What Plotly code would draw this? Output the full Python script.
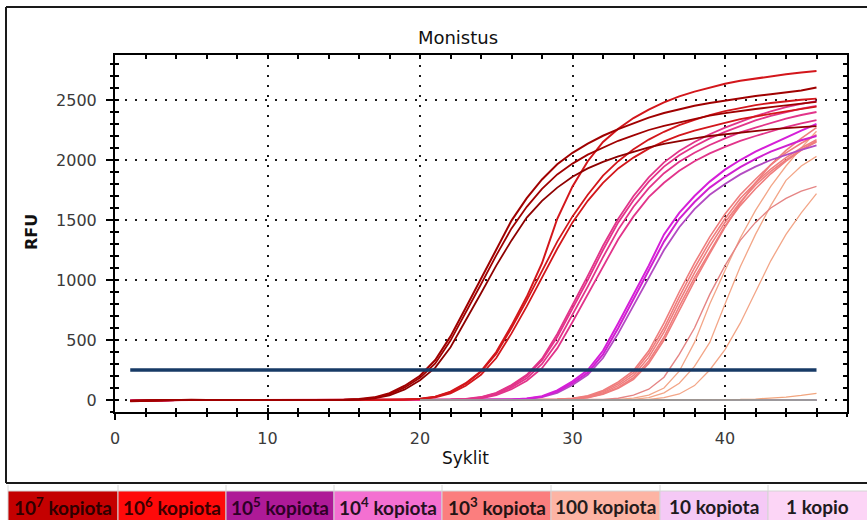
import plotly.graph_objects as go

# ---------------- data ----------------
cycles = list(range(1, 47))

# 10^7 copies
a1 = [-10, -6, -3, 0, 2, 0, -2, 0, 1, 0, -1, 0, 1, 0,
      2, 8, 22, 57, 119, 202, 333, 530, 768, 1010, 1262, 1495, 1682, 1838, 1964, 2060,
      2136, 2202, 2257, 2308, 2353, 2392, 2424, 2452, 2475, 2495, 2515, 2533, 2547, 2563, 2580, 2605]
a2 = [-8, -4, -1, 1, 0, -1, 0, 2, 0, -1, 0, 1, 0, 0,
      1, 6, 18, 48, 105, 185, 305, 495, 725, 965, 1205, 1430, 1610, 1760, 1880, 1970,
      2045, 2105, 2160, 2205, 2250, 2285, 2315, 2345, 2370, 2390, 2410, 2425, 2440, 2455, 2470, 2485]
a3 = [-6, -3, 0, 1, -1, 0, 1, 0, -1, 0, 0, 1, 0, -1,
      0, 4, 14, 38, 88, 165, 270, 440, 660, 890, 1120, 1330, 1520, 1660, 1770, 1860,
      1930, 1985, 2030, 2070, 2105, 2135, 2160, 2180, 2200, 2215, 2230, 2243, 2255, 2265, 2275, 2283]

# 10^6 copies
b1 = [-8, -4, -2, 0, 1, 0, -1, 0, 2, 1, 0, -1, 0, 1, 0, 0, 1, 0,
      3, 10, 28, 70, 140, 240, 400, 620, 860, 1140, 1510, 1780, 1990, 2150, 2260, 2350,
      2420, 2480, 2530, 2570, 2605, 2635, 2660, 2680, 2700, 2715, 2730, 2742]
b2 = [-7, -3, 0, 1, 0, -1, 0, 1, 0, 0, 1, 0, -1, 0, 1, 0, 0, 1,
      2, 9, 26, 65, 135, 235, 385, 600, 830, 1070, 1320, 1530, 1710, 1870, 1990, 2090,
      2170, 2235, 2290, 2335, 2375, 2408, 2435, 2458, 2475, 2490, 2502, 2512]
b3 = [-6, -2, 0, 0, 1, 0, -1, 0, 1, 0, 0, -1, 0, 1, 0, 0, 0, 1,
      1, 7, 22, 55, 118, 210, 350, 555, 780, 1020, 1260, 1480, 1660, 1810, 1930, 2020,
      2095, 2155, 2205, 2245, 2280, 2310, 2340, 2365, 2385, 2405, 2425, 2445]

# 10^5 copies
c1 = [-8, -4, -1, 0, 1, 0, -1, 0, 1, 0, 0, 1, 0, -1, 0, 1, 0, 0, 1, 0, 0,
      2, 8, 22, 56, 118, 200, 330, 525, 760, 1000, 1250, 1480, 1665, 1820, 1945,
      2040, 2115, 2180, 2235, 2285, 2330, 2368, 2400, 2428, 2452]
c2 = [-6, -3, 0, 1, 0, -1, 0, 1, 0, 0, -1, 0, 1, 0, 0, 1, 0, -1, 0, 0, 1,
      1, 6, 18, 48, 105, 180, 300, 480, 710, 945, 1190, 1420, 1610, 1765, 1890,
      1985, 2060, 2125, 2180, 2230, 2270, 2310, 2345, 2375, 2400]
c3 = [-5, -2, 0, 0, 1, 0, 0, -1, 0, 1, 0, 0, 1, 0, -1, 0, 0, 1, 0, 0, 0,
      1, 5, 14, 40, 90, 160, 265, 430, 650, 880, 1110, 1340, 1530, 1690, 1810,
      1910, 1990, 2055, 2110, 2160, 2200, 2240, 2275, 2305, 2332]
c4 = [-9, -5, -2, 0, 0, 1, 0, 0, -1, 0, 1, 0, 0, 1, 0, 0, -1, 0, 1, 0, 1,
      3, 9, 25, 60, 125, 210, 345, 550, 790, 1035, 1285, 1510, 1700, 1855, 1980,
      2075, 2150, 2215, 2270, 2320, 2365, 2405, 2440, 2468, 2490]

# 10^4 copies
d1 = [-7, -3, 0, 1, 0, -1, 0, 0, 1, 0, 0, -1, 0, 1, 0, 0, 0, 1, 0, -1, 0, 0, 1, 0, 0,
      4, 12, 32, 80, 155, 250, 410, 640, 880, 1120, 1380, 1560, 1700, 1820, 1920,
      2000, 2070, 2130, 2190, 2245, 2300]
d2 = [-6, -2, 0, 0, 1, 0, -1, 0, 0, 1, 0, 0, -1, 0, 0, 1, 0, 0, 0, 1, 0, -1, 0, 0, 1,
      3, 10, 28, 70, 140, 228, 380, 600, 840, 1080, 1320, 1510, 1650, 1770, 1860,
      1940, 2010, 2070, 2120, 2165, 2200]
d3 = [-5, -2, 1, 0, 0, -1, 0, 1, 0, 0, 0, -1, 0, 1, 0, 0, -1, 0, 1, 0, 0, 0, 1, 0, 0,
      2, 8, 24, 60, 125, 210, 350, 555, 790, 1020, 1250, 1440, 1590, 1710, 1800,
      1880, 1945, 2000, 2045, 2085, 2122]

# 10^3 copies
e1 = [-6, -3, 0, 1, 0, 0, -1, 0, 1, 0, 0, 0, -1, 0, 1, 0, 0, 0, 1, 0, -1, 0, 0, 1, 0, 0, 1,
      2, 6, 15, 35, 80, 150, 245, 410, 640, 900, 1140, 1360, 1550, 1710, 1840,
      1960, 2060, 2140, 2210]
e2 = [-5, -2, 0, 0, 1, 0, 0, -1, 0, 0, 1, 0, 0, -1, 0, 0, 1, 0, 0, -1, 0, 0, 1, 0, 0, 0, 1,
      1, 5, 12, 30, 70, 135, 225, 385, 600, 860, 1100, 1320, 1510, 1680, 1810,
      1925, 2020, 2100, 2170]
e3 = [-7, -4, -1, 0, 0, 1, 0, 0, -1, 0, 1, 0, 0, 0, -1, 0, 1, 0, 0, 0, -1, 0, 0, 1, 0, 0, 0,
      1, 4, 10, 26, 60, 120, 205, 355, 565, 820, 1060, 1280, 1480, 1650, 1790,
      1905, 2000, 2085, 2150]
e4 = [-4, -2, 0, 1, 0, 0, 0, -1, 0, 1, 0, 0, -1, 0, 0, 1, 0, 0, -1, 0, 0, 1, 0, 0, -1, 0, 0,
      0, 3, 8, 22, 52, 105, 185, 325, 525, 780, 1020, 1240, 1450, 1620, 1760,
      1885, 1990, 2080, 2160]
e5 = [-6, -3, -1, 0, 1, 0, 0, 0, -1, 0, 0, 1, 0, 0, -1, 0, 0, 1, 0, 0, 0, -1, 0, 1, 0, 0, 0,
      0, 2, 7, 20, 48, 98, 172, 305, 500, 750, 990, 1220, 1440, 1640, 1810,
      1960, 2080, 2180, 2270]

# 100 copies
f1 = [-5, -2, 0, 0, 1, 0, 0, -1, 0, 0, 1, 0, 0, 0, -1, 0, 0, 1, 0, 0, 0, -1, 0, 0, 1, 0, 0, 0, -1, 0,
      0, 5, 15, 40, 90, 190, 380, 600, 880, 1120, 1330, 1480, 1600, 1680, 1740, 1780]
f2 = [-4, -2, 0, 1, 0, 0, -1, 0, 0, 1, 0, 0, -1, 0, 0, 0, 1, 0, 0, -1, 0, 0, 0, 1, 0, 0, -1, 0, 0, 0,
      0, 0, 5, 15, 40, 100, 240, 480, 800, 1080, 1350, 1580, 1780, 1950, 2100, 2240]
f3 = [-6, -3, -1, 0, 0, 1, 0, 0, 0, -1, 0, 0, 1, 0, 0, -1, 0, 0, 0, 1, 0, 0, -1, 0, 0, 0, 1, 0, 0, 0,
      0, 0, 0, 5, 20, 60, 140, 280, 480, 800, 1110, 1380, 1620, 1830, 1950, 2030]
f4 = [-5, -2, 0, 0, 0, 1, 0, -1, 0, 0, 0, 1, 0, 0, -1, 0, 0, 0, 1, 0, 0, 0, -1, 0, 0, 1, 0, 0, 0, -1,
      0, 0, 0, 0, 5, 20, 50, 120, 250, 420, 640, 900, 1160, 1380, 1560, 1720]
f5 = [-4, -2, 0, 0, 1, 0, 0, 0, -1, 0, 0, 0, 1, 0, 0, 0, -1, 0, 0, 0, 1, 0, 0, -1, 0, 0, 0, 1, 0, 0,
      0, 0, 1, 0, 0, 1, 0, 1, 2, 2, 4, 8, 14, 24, 38, 55]

# 10 copies / 1 copy (flat)
g1 = [-6, -3, -1, 0, 1, 0, -1, 0, 1, 0, 0, 1, 0, -1, 0, 0, 1, 0, 0, -1, 0, 1, 0, 0, -1,
      0, 0, 1, 0, 0, -1, 0, 1, 0, 0, 0, -1, 0, 1, 0, 0, 0, 1, 0, 0, 1]
g2 = [-5, -2, 0, 0, 0, 1, 0, 0, -1, 0, 1, 0, 0, 0, -1, 0, 0, 1, 0, 0, 0, -1, 0, 0, 1,
      0, 0, 0, -1, 0, 1, 0, 0, 0, -1, 0, 0, 1, 0, 0, 0, -1, 0, 1, 0, 2]
h1 = [-4, -2, 0, 1, 0, 0, 0, -1, 0, 0, 1, 0, 0, -1, 0, 0, 0, 1, 0, 0, -1, 0, 0, 0, 1,
      0, 0, -1, 0, 0, 0, 1, 0, 0, -1, 0, 0, 0, 1, 0, 0, -1, 0, 0, 1, 0]
h2 = [-3, -1, 0, 0, 1, 0, 0, -1, 0, 0, 0, 1, 0, 0, -1, 0, 0, 1, 0, 0, 0, -1, 0, 0, 0,
      1, 0, 0, -1, 0, 0, 1, 0, 0, 0, -1, 0, 0, 1, 0, 0, 0, -1, 0, 0, 1]
# gray flat traces, visible on the baseline from cycle 20 onwards
n1 = [None] * 19 + [0, -2, -1, 0, 0, -1, 0, 0, -1, -2, 0, 0, 0, -1, -2, -1, 0, 0, 0, -1,
                    0, -2, -1, 0, 0, -1, 0]
n2 = [None] * 19 + [0, 1, 0, -1, -2, 0, 0, 1, 0, -2, -1, 0, 0, 0, 1, -1, -2, 0, 0, 1,
                    0, 0, -1, -2, 0, 0, -1]

threshold_x = [1, 46]
threshold_rfu = 250

legend_labels = ["10<sup>7</sup> kopiota", "10<sup>6</sup> kopiota", "10<sup>5</sup> kopiota",
                 "10<sup>4</sup> kopiota", "10<sup>3</sup> kopiota", "100 kopiota",
                 "10 kopiota", "1 kopio"]
legend_colors = ["#C40000", "#FF0A0A", "#AE1A97", "#F470D1", "#FB7E7E", "#FDB4A4",
                 "#F5C9F6", "#FCD5F6"]
legend_text_colors = ["#2e0000", "#3a0000", "#2e0026", "#26101f", "#241414", "#241c1c",
                      "#201a20", "#201a20"]

# ---------------- figure ----------------
W, H = 867, 520
L, R, T, B = 115, 20, 55, 108
PW, PH = W - L - R, H - T - B


def px(x):
    return (x - L) / PW


def py(y):
    return (H - B - y) / PH


series = [
    (h1, "#F3C6EC", 1.4), (h2, "#F0C0EA", 1.4),
    (g1, "#EBB0E6", 1.4), (g2, "#E8ACE2", 1.4),
    (f5, "#F2A57E", 1.3), (f4, "#F3A688", 1.3), (f3, "#F3A688", 1.3),
    (f2, "#F3A688", 1.3), (f1, "#E58585", 1.4),
    (e5, "#EF7D7D", 1.6), (e4, "#EF7D7D", 1.6), (e3, "#EF7D7D", 1.6),
    (e2, "#EF7D7D", 1.6), (e1, "#EF7D7D", 1.6),
    (d3, "#B24AC2", 1.8), (d2, "#D020D0", 2.0), (d1, "#D51FD8", 2.0),
    (c3, "#E2348A", 1.8), (c2, "#E2348A", 1.8), (c4, "#E2348A", 1.8), (c1, "#E2348A", 1.8),
    (b3, "#D3161B", 1.8), (b2, "#D3161B", 1.8), (b1, "#D3161B", 2.0),
    (a3, "#8E0000", 1.8), (a2, "#A00000", 1.8), (a1, "#A00000", 2.0),
    (n1, "#8A8A8A", 1.6), (n2, "#9A9A9A", 1.4),
]

fig = go.Figure()
for ys, col, w in series:
    fig.add_trace(go.Scatter(x=cycles, y=ys, mode="lines",
                             line=dict(color=col, width=w), showlegend=False,
                             hoverinfo="skip"))

fig.add_trace(go.Scatter(x=threshold_x, y=[threshold_rfu] * len(threshold_x), mode="lines",
                         line=dict(color="#173A66", width=3.5), showlegend=False,
                         hoverinfo="skip"))
# helper trace for the overlay axes (inner ticks)
fig.add_trace(go.Scatter(x=[None], y=[None], xaxis="x2", yaxis="y2", showlegend=False,
                         hoverinfo="skip"))

tickfont = dict(family="DejaVu Sans", size=16, color="#3a3a3a")
grid = dict(showgrid=True, gridcolor="#1a1a1a", gridwidth=2, griddash="2px,8px")

fig.update_layout(
    width=W, height=H,
    margin=dict(l=L, r=R, t=T, b=B, pad=0),
    paper_bgcolor="white", plot_bgcolor="white",
    showlegend=False,
    title=dict(text="Monistus", x=458 / W, xref="container", xanchor="center",
               y=1 - 38 / H, yref="container", yanchor="middle",
               font=dict(family="DejaVu Sans", size=18, color="#111111")),
    xaxis=dict(range=[0, 48], tick0=0, dtick=10, ticks="outside", ticklen=6, tickwidth=2,
               tickcolor="black", showline=True, linecolor="black", linewidth=2, mirror=True,
               zeroline=False, tickfont=tickfont, ticklabelstandoff=5,
               minor=dict(dtick=2, ticks="outside", ticklen=3, tickwidth=1.5,
                          tickcolor="black", showgrid=False),
               **grid),
    yaxis=dict(range=[-100, 2875], tick0=0, dtick=500, ticks="outside", ticklen=7, tickwidth=2,
               tickcolor="black", showline=True, linecolor="black", linewidth=2, mirror=True,
               zeroline=False, tickfont=tickfont, ticklabelstandoff=6,
               minor=dict(dtick=100, ticks="outside", ticklen=3, tickwidth=1.5,
                          tickcolor="black", showgrid=False),
               **grid),
    xaxis2=dict(range=[0, 48], overlaying="x", anchor="y2", tick0=0, dtick=2, ticks="inside",
                ticklen=4, tickwidth=1.5, tickcolor="black", mirror="allticks",
                showticklabels=False, showgrid=False, zeroline=False, showline=False),
    yaxis2=dict(range=[-100, 2875], overlaying="y", anchor="x2", tick0=0, dtick=100,
                ticks="inside", ticklen=4, tickwidth=1.5, tickcolor="black", mirror="allticks",
                showticklabels=False, showgrid=False, zeroline=False, showline=False),
)

annotations = [
    dict(text="Syklit", x=px(465), y=py(458), xref="paper", yref="paper",
         showarrow=False, xanchor="center", yanchor="middle",
         font=dict(family="DejaVu Sans", size=17, color="#111111")),
    dict(text="<b>RFU</b>", x=px(31), y=py(232), xref="paper", yref="paper",
         showarrow=False, xanchor="center", yanchor="middle", textangle=-90,
         font=dict(family="DejaVu Sans", size=16, color="#111111")),
]

shapes = []
# outer frame (left, top, bottom)
for x0, y0, x1, y1 in [(6, 7, 6, 483), (6, 7, 872, 7), (6, 483, 872, 483)]:
    shapes.append(dict(type="line", xref="paper", yref="paper",
                       x0=px(x0), y0=py(y0), x1=px(x1), y1=py(y1),
                       line=dict(color="#1a1a1a", width=2), layer="above"))

edges = [8, 118, 226, 334, 442, 551, 660, 768, 872]
for i, lab in enumerate(legend_labels):
    xa, xb = edges[i], edges[i + 1]
    shapes.append(dict(type="rect", xref="paper", yref="paper",
                       x0=px(xa), x1=px(xb), y0=py(491), y1=py(524),
                       fillcolor=legend_colors[i], line=dict(color="#d4d4d4", width=1),
                       layer="above"))
    annotations.append(dict(text="<b>" + lab + "</b>", x=px((xa + min(xb, 867)) / 2), y=py(506),
                            xref="paper", yref="paper", showarrow=False,
                            xanchor="center", yanchor="middle",
                            font=dict(family="Lato", size=19, color=legend_text_colors[i])))
for xe in edges[:-1]:
    shapes.append(dict(type="line", xref="paper", yref="paper",
                       x0=px(xe), x1=px(xe), y0=py(485), y1=py(491),
                       line=dict(color="#d8d8d8", width=1), layer="above"))

fig.update_layout(annotations=annotations, shapes=shapes)
fig.write_html("out.html")
